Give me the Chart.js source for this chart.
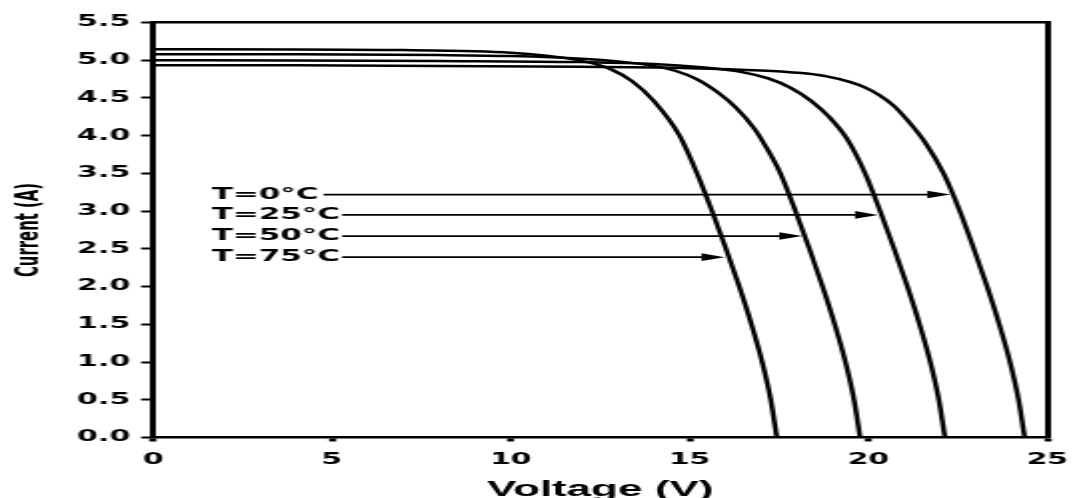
<!DOCTYPE html>
<html>
<head>
<meta charset="utf-8">
<script src="https://cdn.jsdelivr.net/npm/chart.js@4.4.1/dist/chart.umd.min.js"></script>
<style>
html,body{margin:0;padding:0;background:#fff;overflow:hidden;width:1087px;height:498px;}
#wrap{position:absolute;left:0;top:0;width:544px;height:498px;transform:scaleX(1.998162);transform-origin:0 0;}
</style>
</head>
<body>
<div id="wrap"><canvas id="c"></canvas></div>
<script>
// ---- data ----
const temperatureLabels = ['T=0°C', 'T=25°C', 'T=50°C', 'T=75°C'];

const voltageT0  = [0, 4, 8, 12, 15, 17, 18, 18.8, 19.5, 19.9, 20.3, 20.7, 21.1, 21.6, 22.1, 22.56, 22.95, 23.32, 23.66, 23.96, 24.2, 24.37];
const currentT0  = [4.935, 4.933, 4.925, 4.912, 4.895, 4.865, 4.835, 4.79, 4.71, 4.64, 4.54, 4.4, 4.2, 3.9, 3.5, 3.0, 2.5, 2.0, 1.5, 1.0, 0.5, 0];

const voltageT25 = [0, 4, 8, 12, 14, 15.5, 16.5, 17.2, 17.8, 18.4, 18.9, 19.4, 19.91, 20.33, 20.72, 21.09, 21.43, 21.73, 21.97, 22.14];
const currentT25 = [5.0, 4.998, 4.99, 4.975, 4.95, 4.9, 4.84, 4.76, 4.64, 4.46, 4.25, 3.96, 3.5, 3.0, 2.5, 2.0, 1.5, 1.0, 0.5, 0];

const voltageT50 = [0, 4, 8, 10, 12, 13, 14, 14.6, 15.2, 15.8, 16.3, 16.8, 17.1, 17.54, 17.96, 18.35, 18.72, 19.06, 19.36, 19.6, 19.77];
const currentT50 = [5.08, 5.078, 5.068, 5.055, 5.02, 4.985, 4.925, 4.86, 4.75, 4.57, 4.37, 4.1, 3.88, 3.5, 3.0, 2.5, 2.0, 1.5, 1.0, 0.5, 0];

const voltageT75 = [0, 4, 7, 9, 10, 11, 11.6, 12.2, 12.8, 13.4, 14.0, 14.72, 15.21, 15.63, 16.02, 16.39, 16.73, 17.03, 17.27, 17.44];
const currentT75 = [5.145, 5.143, 5.135, 5.12, 5.1, 5.06, 5.025, 4.97, 4.88, 4.72, 4.46, 4.0, 3.5, 3.0, 2.5, 2.0, 1.5, 1.0, 0.5, 0];

// annotation arrows (one per temperature label)
const arrowCurrent    = [3.22, 2.95, 2.67, 2.39];
const arrowTipVoltage = [22.29, 20.27, 18.15, 15.98];
const labelVoltage    = 1.64;

// axis ticks
const voltageTicks = [0, 5, 10, 15, 20, 25];
const currentTicks = [0, 0.5, 1, 1.5, 2, 2.5, 3, 3.5, 4, 4.5, 5, 5.5];

// ---- build ----
function pts(vs, cs) { return vs.map((v, i) => ({ x: v, y: cs[i] })); }

const series = [
  pts(voltageT0, currentT0),
  pts(voltageT25, currentT25),
  pts(voltageT50, currentT50),
  pts(voltageT75, currentT75)
];

const arrowPlugin = {
  id: 'arrows',
  afterDatasetsDraw(chart) {
    const { ctx, scales } = chart;
    const x = scales.x, y = scales.y;
    ctx.save();
    ctx.font = 'bold 15.5px "DejaVu Sans", sans-serif';
    ctx.textBaseline = 'middle';
    ctx.textAlign = 'left';
    ctx.fillStyle = '#000';
    ctx.strokeStyle = '#000';
    temperatureLabels.forEach((lab, i) => {
      const py = y.getPixelForValue(arrowCurrent[i]);
      const px0 = x.getPixelForValue(labelVoltage);
      ctx.fillText(lab, px0, py);
      const start = px0 + ctx.measureText(lab).width + (i === 0 ? 2.5 : 1);
      const tip = x.getPixelForValue(arrowTipVoltage[i]);
      const head = 11.5;
      ctx.lineWidth = 1.8;
      ctx.beginPath();
      ctx.moveTo(start, py);
      ctx.lineTo(tip - head + 1, py);
      ctx.stroke();
      ctx.beginPath();
      ctx.moveTo(tip, py);
      ctx.lineTo(tip - head, py - 3.8);
      ctx.lineTo(tip - head, py + 3.8);
      ctx.closePath();
      ctx.fill();
    });
    ctx.restore();
  }
};

const tickFont = { family: '"DejaVu Sans", sans-serif', weight: 'bold' };

new Chart(document.getElementById('c'), {
  type: 'line',
  data: {
    datasets: series.map((d, i) => ({
      label: temperatureLabels[i],
      data: d,
      xAxisID: 'x',
      yAxisID: 'y',
      borderColor: '#000',
      borderWidth: 2.5,
      pointRadius: 0,
      fill: false,
      cubicInterpolationMode: 'monotone'
    }))
  },
  options: {
    responsive: true,
    maintainAspectRatio: false,
    animation: false,
    layout: { padding: 0 },
    plugins: { legend: { display: false }, tooltip: { enabled: false } },
    scales: {
      x: {
        type: 'linear', axis: 'x', position: 'bottom', min: 0, max: 25,
        afterBuildTicks: s => { s.ticks = voltageTicks.map(v => ({ value: v })); },
        afterFit: s => { s.height = 60.5; },
        ticks: { color: '#000', font: { ...tickFont, size: 15 }, padding: 9.5, maxRotation: 0, autoSkip: false },
        grid: { drawOnChartArea: false, drawTicks: true, tickLength: 4, tickWidth: 3.5, tickColor: '#000' },
        border: { display: true, color: '#000', width: 2.5 },
        title: {
          display: true, text: 'Voltage (V)', color: '#000',
          font: { family: '"Liberation Sans", Arial, sans-serif', weight: 'bold', size: 22, lineHeight: 1 },
          padding: { top: 0, bottom: -3 }
        }
      },
      y: {
        type: 'linear', axis: 'y', position: 'left', min: 0, max: 5.5,
        afterBuildTicks: s => { s.ticks = currentTicks.map(v => ({ value: v })); },
        afterFit: s => { s.width = 76.6; },
        ticks: { color: '#000', font: { ...tickFont, size: 15 }, padding: 5.5, callback: v => Number(v).toFixed(1) },
        grid: { drawOnChartArea: false, drawTicks: true, tickLength: 6, tickWidth: 2, tickColor: '#000' },
        border: { display: true, color: '#000', width: 3 },
        title: {
          display: true, text: 'Current (A)', color: '#000',
          font: { family: '"DejaVu Sans Condensed", "Liberation Sans", Arial, sans-serif', weight: 'bold', size: 16.5 },
          padding: { top: 5, bottom: 0 }
        }
      },
      x2: {
        type: 'linear', axis: 'x', position: 'top', min: 0, max: 25,
        afterFit: s => { s.height = 22.5; },
        ticks: { display: false },
        grid: { drawOnChartArea: false, drawTicks: false },
        border: { display: true, color: '#000', width: 2.5 }
      },
      y2: {
        type: 'linear', axis: 'y', position: 'right', min: 0, max: 5.5,
        afterFit: s => { s.width = 10.3; },
        ticks: { display: false },
        grid: { drawOnChartArea: false, drawTicks: false },
        border: { display: true, color: '#000', width: 3 }
      }
    }
  },
  plugins: [arrowPlugin]
});
</script>
</body>
</html>
